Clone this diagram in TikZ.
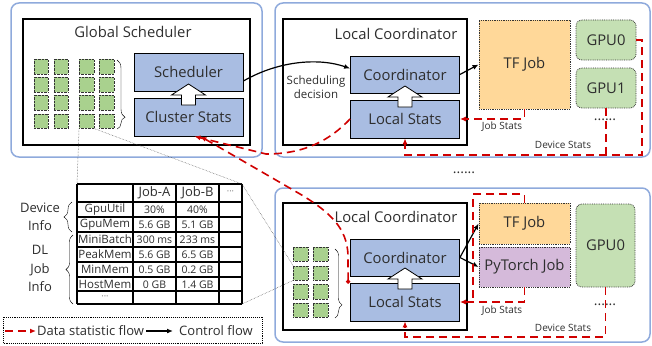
\documentclass[tikz,border=0pt]{standalone}
\usepackage{fontspec}
\setmainfont{Open Sans}
\usetikzlibrary{arrows.meta,decorations.pathreplacing,calc}
\definecolor{frameblue}{HTML}{8FAADC}
\definecolor{modblue}{HTML}{A9BDE2}
\definecolor{unitgreen}{HTML}{A9D18E}
\definecolor{gpugreen}{HTML}{C5E0B4}
\definecolor{joborange}{HTML}{FFD899}
\definecolor{jobpurple}{HTML}{D5BADA}
\definecolor{statred}{HTML}{D00000}
\newcommand\fsz[2]{\fontsize{#1}{#2}\selectfont}
\begin{document}
\begin{tikzpicture}[x=1pt, y=-1pt, >={Latex[length=6pt,width=5pt]},
 every node/.append style={text=black!82},
 frame/.style={draw=frameblue, line width=1.5pt, rounded corners=8pt},
 panel/.style={draw=black, line width=1.1pt},
 module/.style={draw=black, fill=modblue, line width=0.8pt, minimum width=109pt, minimum height=38pt, inner sep=0pt, font=\fsz{14.8}{17}},
 unit/.style={draw=black!80, densely dotted, fill=unitgreen, minimum size=14.5pt, inner sep=0pt},
 job/.style={draw=black!80, densely dotted, line width=0.8pt, inner sep=0pt, minimum width=91pt, font=\fsz{14.8}{17}},
 gpu/.style={job, fill=gpugreen, rounded corners=6pt, minimum width=60pt},
 stat/.style={draw=statred, line width=1.6pt, dash pattern=on 8pt off 5pt},
 ctrl/.style={draw=black, line width=1.2pt},
 zoomline/.style={draw=black!70, densely dotted, line width=0.5pt},
 note/.style={font=\fsz{10}{12}},
 dots/.style={font=\fsz{14}{14}, inner sep=0pt},
 rowname/.style={font=\fsz{11.5}{13}, inner sep=0pt},
 val/.style={font=\fsz{10.5}{12}, inner sep=0pt},
 hollow/.pic={\draw[fill=white, line width=0.8pt] (0,0) -- (17,11) -- (7,11) -- (7,21) -- (-7,21) -- (-7,11) -- (-17,11) -- cycle;}]
\useasboundingbox (0,0) rectangle (652,345);
\draw[frame] (11,3) rectangle (262,157);
\draw[frame] (275,3) rectangle (650,157);
\draw[frame] (275,188) rectangle (650,342);
\draw[panel] (23,19) rectangle (250,145);
\draw[panel] (283,19) rectangle (467,145);
\draw[panel] (283,203) rectangle (467,330);

% global scheduler
\node[font=\fsz{14.8}{17}] (gtitle) at (133,32) {Global Scheduler};
\foreach \i/\x in {1/41,2/61,3/86.5,4/106.5}
  \foreach \j/\y in {1/66.5,2/84.5,3/102.5,4/121}
    \node[unit] (sq-\i-\j) at (\x,\y) {};
\draw[decorate, decoration={brace, amplitude=8pt, aspect=0.83}] (117,60) -- (117,129);
\node[module] (sched) at (188.5,72) {Scheduler};
\node[module] (cstats) at (188.5,117) {Cluster Stats};
\pic at (188.5,84) {hollow};

% local coordinator, top
\node[font=\fsz{14.8}{17}] (ltitle1) at (396,34) {Local Coordinator};
\node[module, minimum height=37pt] (coord1) at (405,74.5) {Coordinator};
\node[module] (lstats1) at (405,119) {Local Stats};
\pic at (405,86) {hollow};
\node[font=\fsz{11.5}{14}, align=center, inner sep=0pt] (decision) at (316,87) {Scheduling\\decision};
\node[job, fill=joborange, minimum height=89pt] (tf1) at (524.5,64.5) {TF Job};
\node[gpu, minimum height=40pt] (gpu0a) at (606,40) {GPU0};
\node[gpu, minimum height=40pt] (gpu1a) at (606,88) {GPU1};
\node[dots] (more1) at (605,120) {......};
\node[note] (jobst1) at (502,127) {Job Stats};
\node[note] (devst1) at (563,145) {Device Stats};

% local coordinator, bottom
\node[font=\fsz{14.8}{17}] (ltitle2) at (396,217) {Local Coordinator};
\foreach \i/\x in {1/300.5,2/320.5}
  \foreach \j/\y in {1/254,2/273,3/291.5,4/310}
    \node[unit] (bsq-\i-\j) at (\x,\y) {};
\draw[decorate, decoration={brace, amplitude=7pt, aspect=0.81}] (335,249) -- (335,318);
\node[module, minimum height=37pt] (coord2) at (405,257.5) {Coordinator};
\node[module] (lstats2) at (405,302) {Local Stats};
\pic at (405,268) {hollow};
\node[job, fill=joborange, minimum height=41pt] (tf2) at (524.5,223.5) {TF Job};
\node[job, fill=jobpurple, minimum height=40pt] (pt2) at (524.5,267) {PyTorch Job};
\node[gpu, minimum height=83pt, minimum width=59pt] (gpu2) at (605.5,245.5) {GPU0};
\node[dots] (more2) at (605,305) {......};
\node[note] (jobst2) at (502,311) {Job Stats};
\node[note] (devst2) at (563,328) {Device Stats};
\node[dots] (moreloc) at (464,173) {......};

% stats table
\foreach \x in {77,133,176,219,242} \draw[line width=1.1pt] (\x,184) -- (\x,304);
\foreach \y in {184,202,217,232,247,262,277,291,304} \draw[line width=1.1pt] (77,\y) -- (242,\y);
\coordinate (tabNW) at (77,184);
\coordinate (tabNE) at (242,184);
\coordinate (tabSE) at (242,304);
\node[font=\fsz{13}{15}, inner sep=0pt] (hA) at (154.5,193) {Job-A};
\node[font=\fsz{13}{15}, inner sep=0pt] (hB) at (197.5,193) {Job-B};
\node[font=\fsz{9}{9}, text=black!55] (hmore) at (230.5,193) {\textperiodcentered\textperiodcentered\textperiodcentered};
\foreach \name/\a/\b [count=\r] in {GpuUtil/30\%/40\%, GpuMem/5.6 GB/5.1 GB, MiniBatch/300 ms/233 ms,
    PeakMem/5.6 GB/6.5 GB, MinMem/0.5 GB/0.2 GB, HostMem/0 GB/1.4 GB}{
  \node[rowname] (rn-\r) at (105,{194.5+15*\r}) {\name};
  \node[val] (va-\r) at (154.5,{194.5+15*\r}) {\a};
  \node[val] (vb-\r) at (197.5,{194.5+15*\r}) {\b};
}
\node[font=\fsz{9}{9}, text=black!55] (rnmore) at (105,297.5) {\textperiodcentered\textperiodcentered\textperiodcentered};
\node[font=\fsz{13}{18}, align=center] (devinfo) at (40,217) {Device\\Info};
\node[font=\fsz{13}{18.5}, align=center] (dlinfo) at (40,268.5) {DL\\Job\\Info};
\draw[decorate, decoration={brace, amplitude=8pt}] (72,232) -- (72,202);
\draw[decorate, decoration={brace, amplitude=7pt}] (73,304) -- (73,235);

% zoom lines
\draw[zoomline] (sq-3-4.south west) -- (tabNW);
\draw[zoomline] (sq-3-4.south east) -- (tabNE);
\draw[zoomline] (tabNE) -- (bsq-1-2.north west);
\draw[zoomline] (tabSE) -- (bsq-1-2.south west);

% control flow
\draw[ctrl,->] ($(sched.east)+(0,9)$) .. controls (280,60) and (320,58) .. ($(coord1.west)+(0,-6)$);
\draw[ctrl,->] (coord1.east) -- (tf1.west);
\draw[ctrl,->] (coord2.east) -- (tf2.west);
\draw[ctrl,->] (coord2.east) -- (pt2.west);

% data statistic flow
\coordinate (dev1) at (642,155);
\coordinate (dev2) at (605.5,337);
\draw[stat,->] (tf1.south) |- (lstats1.east);
\draw[stat,->] (gpu0a.east) -- (gpu0a.east -| dev1) -- (dev1) -| (lstats1.south);
\draw[stat] (gpu1a.south) -- (gpu1a.south |- dev1);
\draw[stat] (tf2.north) -- (524.5,194) -- (473,194) -- (473,302);
\draw[stat,->] (pt2.south) |- (lstats2.east);
\draw[stat,->] (gpu2.south) -- (dev2) -| (lstats2.south);
\draw[stat,->] (lstats1.west) .. controls (330,140) and (305,154) .. (266,154) -- ($(cstats.south)+(6,0)$);
\coordinate (tail2) at ($(lstats2.north west)+(-2,1)$);
\draw[stat,{Circle[length=4pt]}->] (tail2) -- (348,255) .. controls (347,228) and (330,212) .. (300,194) -- ($(cstats.south)+(12,0)$);

% legend
\draw[densely dotted, line width=0.9pt] (3,317) rectangle (262,343);
\coordinate (legA) at (5,331);
\node[font=\fsz{13}{15}, anchor=west, inner sep=1pt] (legstat) at (36,331) {Data statistic flow};
\node[font=\fsz{13}{15}, anchor=west, inner sep=1pt] (legctrl) at (178,331) {Control flow};
\draw[stat,->] (legA) -- (legstat.west);
\draw[ctrl,->] ([xshift=1pt]legstat.east) -- ([xshift=-5pt]legctrl.west);
\end{tikzpicture}
\end{document}
